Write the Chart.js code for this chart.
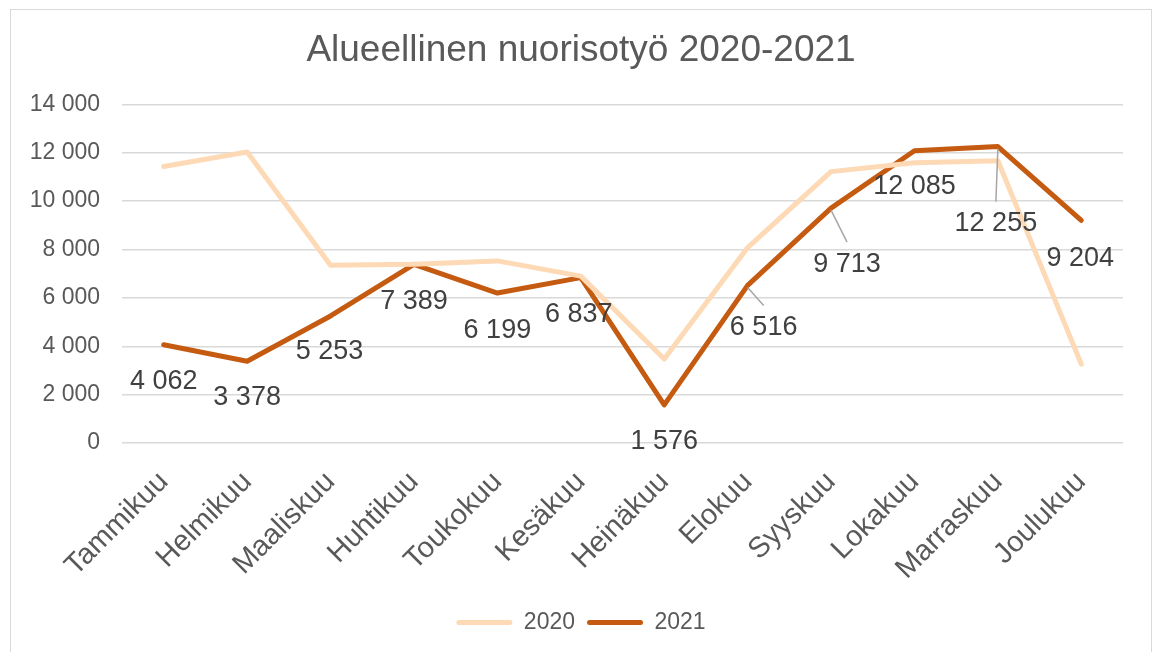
<!DOCTYPE html>
<html>
<head>
<meta charset="utf-8">
<script src="https://cdn.jsdelivr.net/npm/chart.js@4/dist/chart.umd.min.js"></script>
<style>
  body { margin: 0; background: #fff; }
  #frame { position: absolute; left: 10px; top: 9px; width: 1140px; height: 700px; border: 1px solid #d9d9d9; }
  #wrap { position: absolute; left: 0; top: 0; width: 1154px; height: 652px; }
</style>
</head>
<body>
<div id="frame"></div>
<div id="wrap"><canvas id="chart"></canvas></div>
<script>
var months = ["Tammikuu", "Helmikuu", "Maaliskuu", "Huhtikuu", "Toukokuu", "Kesäkuu",
  "Heinäkuu", "Elokuu", "Syyskuu", "Lokakuu", "Marraskuu", "Joulukuu"];
var values2020 = [11430, 12030, 7350, 7390, 7530, 6900, 3470, 8080, 11220, 11590, 11670, 3260];
var values2021 = [4062, 3378, 5253, 7389, 6199, 6837, 1576, 6516, 9713, 12085, 12255, 9204];
var yMin = 0;
var yMax = 14000;
var yStep = 2000;

// where each 2021 label sits relative to its point (dx, dy in px)
var labelShift = [[0, 37], [0, 36], [-1, 36], [0, 37], [0, 37], [-2, 37],
  [0, 37], [16, 42], [16, 56], [0, 36], [-2, 77], [-1, 38]];
var leaderLines = [7, 8, 10];

var fontFamily = "'Liberation Sans', Arial, sans-serif";

function formatNumber(v) {
  return String(v).replace(/\B(?=(\d{3})+(?!\d))/g, " ");
}

var dataLabels = {
  id: "dataLabels",
  afterDatasetsDraw: function(chart) {
    var ctx = chart.ctx;
    var meta = chart.getDatasetMeta(1);
    ctx.save();
    ctx.font = "27px " + fontFamily;
    ctx.fillStyle = "#404040";
    ctx.textAlign = "center";
    ctx.textBaseline = "middle";
    meta.data.forEach(function(pt, i) {
      var dx = labelShift[i][0];
      var dy = labelShift[i][1];
      if (leaderLines.indexOf(i) >= 0) {
        ctx.strokeStyle = "#a6a6a6";
        ctx.lineWidth = 1.5;
        ctx.beginPath();
        ctx.moveTo(pt.x, pt.y + 2);
        ctx.lineTo(pt.x + dx, pt.y + dy - 22);
        ctx.stroke();
      }
      ctx.fillText(formatNumber(values2021[i]), pt.x + dx, pt.y + dy);
    });
    ctx.restore();
  }
};

var myContext = document.getElementById("chart");
var myChartConfig = {
  type: "line",
  data: {
    labels: months,
    datasets: [
      {
        label: "2020",
        data: values2020,
        borderColor: "#fdd9b5",
        backgroundColor: "#fdd9b5",
        borderWidth: 5,
        pointRadius: 0,
        tension: 0,
        borderCapStyle: "round",
        borderJoinStyle: "round"
      },
      {
        label: "2021",
        data: values2021,
        borderColor: "#c55a11",
        backgroundColor: "#c55a11",
        borderWidth: 5,
        pointRadius: 0,
        tension: 0,
        borderCapStyle: "round",
        borderJoinStyle: "round"
      }
    ]
  },
  options: {
    responsive: true,
    maintainAspectRatio: false,
    animation: false,
    layout: { padding: { left: 20, right: 12, top: 0, bottom: 8 } },
    plugins: {
      title: {
        display: true,
        text: "Alueellinen nuorisotyö 2020-2021",
        color: "#595959",
        font: { family: fontFamily, size: 37, weight: "normal" },
        padding: { top: 29, bottom: 31 }
      },
      legend: {
        position: "bottom",
        labels: {
          color: "#595959",
          font: { family: fontFamily, size: 23 },
          boxWidth: 56,
          boxHeight: 5,
          padding: 12,
          generateLabels: function(chart) {
            return Chart.defaults.plugins.legend.labels.generateLabels(chart).map(function(l) {
              l.fillStyle = l.strokeStyle;
              l.lineWidth = 0;
              l.borderRadius = 2.5;
              return l;
            });
          }
        }
      },
      tooltip: { enabled: false }
    },
    scales: {
      x: {
        offset: true,
        grid: { display: false, drawTicks: false },
        border: { display: false },
        ticks: {
          color: "#595959",
          font: { family: fontFamily, size: 29 },
          minRotation: 45,
          maxRotation: 45,
          padding: 22,
          autoSkip: false
        },
        afterFit: function(scale) { scale.height = 156; }
      },
      y: {
        min: yMin,
        max: yMax,
        grid: { color: "#d9d9d9", lineWidth: 1.5, drawTicks: false },
        border: { display: false },
        ticks: {
          stepSize: yStep,
          color: "#595959",
          font: { family: fontFamily, size: 23 },
          padding: 22,
          callback: function(v) { return formatNumber(v); }
        },
        afterFit: function(scale) { scale.width = 102; }
      },
      // empty strip on the right so the title and legend centre like the original
      spacer: {
        position: "right",
        grid: { display: false, drawTicks: false },
        border: { display: false },
        ticks: { display: false },
        afterFit: function(scale) { scale.width = 19; }
      }
    }
  },
  plugins: [dataLabels]
};
new Chart(myContext, myChartConfig);
</script>
</body>
</html>
